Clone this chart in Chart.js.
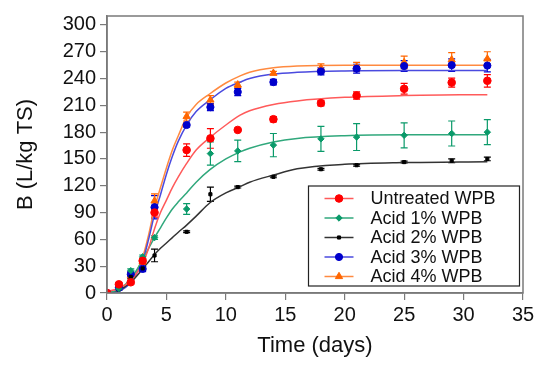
<!DOCTYPE html>
<html><head><meta charset="utf-8">
<script src="https://cdn.jsdelivr.net/npm/chart.js@4.4.1/dist/chart.umd.min.js"></script>
<style>html,body{margin:0;padding:0;background:#fff}</style>
</head><body>
<canvas id="c" width="550" height="372" style="width:550px;height:372px;display:block"></canvas>
<script>
// ---- data ----
const days = [0, 1, 2, 3, 4, 6.7, 8.7, 11, 14, 18, 21, 25, 29, 32];
const seriesNames = ["Untreated WPB", "Acid 1% WPB", "Acid 2% WPB", "Acid 3% WPB", "Acid 4% WPB"];
const untreated = [0, 9.7, 12, 36, 90, 160, 173, 182.5, 194.5, 212.5, 221, 228.5, 235.5, 237.5];
const acid1 = [0, 5, 25, 40.5, 62, 94, 156, 159, 165.5, 172.5, 174.5, 176.5, 178.5, 180];
const acid2 = [0, 4, 18, 27.5, 42, 68.5, 110.5, 118.5, 130, 138.5, 143, 146.5, 148, 150];
const acid3 = [0, 6, 21, 27, 96, 188, 208, 225, 236, 248, 251, 254, 255, 254.5];
const acid4 = [0, 7, 20, 35, 103, 197.5, 216, 233, 246, 251.5, 253, 258, 261, 262];
// error bar half-lengths
const untreatedErr = [0, 2, 2, 3, 5, 7, 11, 1, 3, 3, 4, 6, 5, 7];
const acid1Err = [0, 1, 2, 2, 2, 6, 13, 12, 13, 14, 15, 14, 14, 14];
const acid2Err = [0, 1, 2, 2, 7, 1, 8, 1, 1, 1, 1, 1, 2, 2];
const acid3Err = [0, 2, 3, 3, 13, 2, 4, 4, 3, 4, 5, 6, 7, 7];
const acid4Err = [0, 2, 3, 3, 8, 5, 5, 3, 2, 5, 5, 7, 8, 8];
// fitted curves
const fitDays = [0, 1, 2, 3, 3.5, 4, 4.5, 5, 5.5, 6, 6.7, 7.5, 8.66, 10, 11.2, 12, 14, 16, 20, 25, 32];
const untreatedFit = [2, 5, 14, 33, 50, 72, 90, 104, 118, 130, 145, 160, 174, 188, 199, 204, 211, 215, 219, 221, 222];
const acid1Fit = [0, 4, 16, 37, 50, 62, 73, 84, 94, 102, 112, 124, 138, 150, 158, 162, 169, 173, 176, 177, 177];
const acid2Fit = [0, 3, 12, 27, 35, 43, 50, 56, 62, 68, 76, 86, 101, 112, 119, 124, 132, 139, 144, 146, 147];
const acid3Fit = [0, 2, 12, 36, 60, 88, 110, 133, 153, 170, 188, 203, 216, 229, 236, 240, 245, 247, 248.5, 249, 249];
const acid4Fit = [0, 3, 14, 40, 65, 95, 118, 140, 160, 176, 197, 211, 223, 235, 243, 247, 252, 254, 255, 255, 255];
const xTicks = [0, 5, 10, 15, 20, 25, 30, 35];
const yTicks = [0, 30, 60, 90, 120, 150, 180, 210, 240, 270, 300];

// ---- styles ----
const markerColors = ["#ff0000", "#0a9a6a", "#000000", "#0000cc", "#ff6600"];
const lineColors = ["#ff5a5a", "#30a87c", "#333333", "#4a4adf", "#ff8a40"];
const pointStyles = ["circle", "rectRot", "rect", "circle", "triangle"];
const pointRadii = [3.8, 3.2, 2.2, 3.6, 4.2];

const pointSets = [untreated, acid1, acid2, acid3, acid4];
const errSets = [untreatedErr, acid1Err, acid2Err, acid3Err, acid4Err];
const fitSets = [untreatedFit, acid1Fit, acid2Fit, acid3Fit, acid4Fit];

const datasets = [];
fitSets.forEach((f, i) => {
  datasets.push({
    label: seriesNames[i] + " fit", isFit: true,
    data: fitDays.map((d, k) => ({x: d, y: f[k]})),
    showLine: true, borderColor: lineColors[i], borderWidth: 1.5,
    pointRadius: 0, cubicInterpolationMode: 'monotone', fill: false, order: 10
  });
});
pointSets.forEach((p, i) => {
  datasets.push({
    label: seriesNames[i], isFit: false, errors: errSets[i], idx: i,
    data: days.map((d, k) => ({x: d, y: p[k]})),
    showLine: false, pointStyle: pointStyles[i], pointRadius: pointRadii[i],
    backgroundColor: markerColors[i], borderColor: markerColors[i], borderWidth: 1, order: 1
  });
});

const AXIS = "#7a7a7a";
const FONT = "'Liberation Sans', Arial, sans-serif";

const errorBars = {
  id: 'errorBars',
  beforeDatasetsDraw(chart) {
    const ctx = chart.ctx, ys = chart.scales.y;
    chart.data.datasets.forEach((ds, di) => {
      if (ds.isFit) return;
      const meta = chart.getDatasetMeta(di);
      ctx.save();
      ctx.strokeStyle = ds.borderColor; ctx.lineWidth = 1.2;
      meta.data.forEach((pt, k) => {
        const e = ds.errors[k]; if (!e) return;
        const v = ds.data[k].y;
        const x = pt.x, y1 = ys.getPixelForValue(v - e), y2 = ys.getPixelForValue(v + e);
        ctx.beginPath();
        ctx.moveTo(x, y1); ctx.lineTo(x, y2);
        ctx.moveTo(x - 3.5, y1); ctx.lineTo(x + 3.5, y1);
        ctx.moveTo(x - 3.5, y2); ctx.lineTo(x + 3.5, y2);
        ctx.stroke();
      });
      ctx.restore();
    });
  }
};

const frame = {
  id: 'frame',
  afterDraw(chart) {
    const {ctx, chartArea: a} = chart;
    ctx.save();
    ctx.strokeStyle = AXIS; ctx.lineWidth = 1.5;
    ctx.strokeRect(a.left, a.top, a.right - a.left, a.bottom - a.top);
    ctx.restore();
  }
};

const boxLegend = {
  id: 'boxLegend',
  afterDraw(chart) {
    const ctx = chart.ctx;
    const L = 308.5, T = 186, W = 211, H = 100;
    ctx.save();
    ctx.fillStyle = '#fff';
    ctx.fillRect(L, T, W, H);
    ctx.strokeStyle = '#222'; ctx.lineWidth = 1.2;
    ctx.strokeRect(L, T, W, H);
    ctx.font = "18px " + FONT;
    ctx.textBaseline = 'middle'; ctx.textAlign = 'left';
    const pts = chart.data.datasets.filter(d => !d.isFit);
    pts.forEach((ds, r) => {
      const y = T + 12.5 + r * 19.5;
      ctx.strokeStyle = lineColors[ds.idx]; ctx.lineWidth = 1.5;
      ctx.beginPath(); ctx.moveTo(L + 16, y); ctx.lineTo(L + 45, y); ctx.stroke();
      ctx.fillStyle = ds.backgroundColor; ctx.strokeStyle = ds.borderColor; ctx.lineWidth = 1;
      Chart.helpers.drawPoint(ctx, {pointStyle: ds.pointStyle, radius: ds.pointRadius, rotation: 0, borderWidth: 1}, L + 30.5, y);
      ctx.fillStyle = '#111';
      ctx.fillText(ds.label, L + 62, y + 1);
    });
    ctx.restore();
  }
};

new Chart(document.getElementById('c'), {
  type: 'scatter',
  data: {datasets},
  options: {
    responsive: false, animation: false, devicePixelRatio: 1,
    layout: {padding: {top: 15, right: 27, bottom: 0, left: 0}},
    plugins: {legend: {display: false}, tooltip: {enabled: false}},
    scales: {
      x: {
        type: 'linear', min: 0, max: 35,
        afterBuildTicks: s => { s.ticks = xTicks.map(v => ({value: v})); },
        afterFit: s => { s.height = 79; },
        grid: {display: true, drawOnChartArea: false, drawTicks: true, tickLength: 7, color: AXIS, lineWidth: 1.2},
        border: {display: true, color: AXIS, width: 1.5},
        ticks: {color: '#111', font: {family: FONT, size: 20}, padding: 3, maxRotation: 0},
        title: {display: true, text: 'Time (days)', color: '#111', font: {family: FONT, size: 22}, padding: {top: 0, bottom: 13}}
      },
      y: {
        type: 'linear', min: 0, max: 310,
        afterBuildTicks: s => { s.ticks = yTicks.map(v => ({value: v})); },
        afterFit: s => { s.width = 107; },
        grid: {display: true, drawOnChartArea: false, drawTicks: true, tickLength: 7, color: AXIS, lineWidth: 1.2},
        border: {display: true, color: AXIS, width: 1.5},
        ticks: {color: '#111', font: {family: FONT, size: 20}, padding: 4},
        title: {display: true, text: 'B (L/kg TS)', color: '#111', font: {family: FONT, size: 22}, padding: {top: 13, bottom: 0}}
      }
    }
  },
  plugins: [errorBars, frame, boxLegend]
});
</script>
</body></html>
